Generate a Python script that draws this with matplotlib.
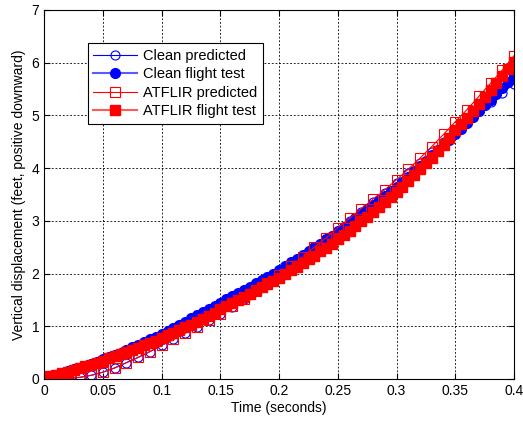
import numpy as np
import matplotlib
matplotlib.use("Agg")
import matplotlib.pyplot as plt

plt.rcParams['font.family'] = ['Liberation Sans', 'DejaVu Sans']

# Predicted series (every 0.01 s)
t_pred = [0.00, 0.01, 0.02, 0.03, 0.04, 0.05, 0.06, 0.07, 0.08, 0.09,
          0.10, 0.11, 0.12, 0.13, 0.14, 0.15, 0.16, 0.17, 0.18, 0.19,
          0.20, 0.21, 0.22, 0.23, 0.24, 0.25, 0.26, 0.27, 0.28, 0.29,
          0.30, 0.31, 0.32, 0.33, 0.34, 0.35, 0.36, 0.37, 0.38, 0.39, 0.40]
clean_pred = [0.00, 0.00, 0.01, 0.03, 0.07, 0.13, 0.21, 0.31, 0.41, 0.52,
              0.64, 0.75, 0.87, 0.99, 1.11, 1.23, 1.37, 1.51, 1.66, 1.81,
              1.96, 2.12, 2.29, 2.46, 2.63, 2.81, 2.99, 3.17, 3.35, 3.53,
              3.71, 3.90, 4.10, 4.30, 4.50, 4.72, 4.91, 5.08, 5.25, 5.42, 5.60]
atflir_pred = [0.00, 0.00, 0.01, 0.03, 0.07, 0.13, 0.21, 0.31, 0.41, 0.52,
               0.64, 0.75, 0.87, 0.99, 1.11, 1.24, 1.38, 1.52, 1.67, 1.82,
               1.98, 2.15, 2.32, 2.50, 2.68, 2.87, 3.05, 3.23, 3.41, 3.59,
               3.78, 3.98, 4.19, 4.41, 4.64, 4.88, 5.11, 5.36, 5.61, 5.86, 6.13]

# Flight test series (every 0.005 s)
t_flight = [0.000, 0.005, 0.010, 0.015, 0.020, 0.025, 0.030, 0.035, 0.040, 0.045,
            0.050, 0.055, 0.060, 0.065, 0.070, 0.075, 0.080, 0.085, 0.090, 0.095,
            0.100, 0.105, 0.110, 0.115, 0.120, 0.125, 0.130, 0.135, 0.140, 0.145,
            0.150, 0.155, 0.160, 0.165, 0.170, 0.175, 0.180, 0.185, 0.190, 0.195,
            0.200, 0.205, 0.210, 0.215, 0.220, 0.225, 0.230, 0.235, 0.240, 0.245,
            0.250, 0.255, 0.260, 0.265, 0.270, 0.275, 0.280, 0.285, 0.290, 0.295,
            0.300, 0.305, 0.310, 0.315, 0.320, 0.325, 0.330, 0.335, 0.340, 0.345,
            0.350, 0.355, 0.360, 0.365, 0.370, 0.375, 0.380, 0.385, 0.390, 0.395, 0.400]
clean_flight = [0.02, 0.05, 0.08, 0.11, 0.15, 0.18, 0.21, 0.25, 0.29, 0.33,
                0.37, 0.41, 0.46, 0.50, 0.55, 0.60, 0.65, 0.70, 0.75, 0.80,
                0.85, 0.91, 0.97, 1.03, 1.09, 1.15, 1.21, 1.27, 1.33, 1.39,
                1.45, 1.51, 1.57, 1.63, 1.69, 1.75, 1.82, 1.88, 1.94, 2.00,
                2.07, 2.14, 2.21, 2.28, 2.35, 2.42, 2.50, 2.57, 2.65, 2.72,
                2.80, 2.88, 2.96, 3.05, 3.13, 3.22, 3.30, 3.39, 3.47, 3.56,
                3.65, 3.74, 3.84, 3.94, 4.04, 4.14, 4.24, 4.34, 4.44, 4.54,
                4.65, 4.75, 4.86, 4.97, 5.08, 5.19, 5.30, 5.41, 5.52, 5.63, 5.74]
atflir_flight = [0.02, 0.05, 0.08, 0.11, 0.14, 0.17, 0.20, 0.24, 0.27, 0.31,
                 0.35, 0.39, 0.43, 0.47, 0.51, 0.55, 0.59, 0.64, 0.68, 0.73,
                 0.78, 0.83, 0.88, 0.93, 0.98, 1.03, 1.08, 1.14, 1.20, 1.26,
                 1.32, 1.38, 1.44, 1.50, 1.56, 1.62, 1.68, 1.74, 1.80, 1.86,
                 1.92, 1.99, 2.06, 2.13, 2.20, 2.27, 2.34, 2.42, 2.49, 2.57,
                 2.65, 2.73, 2.81, 2.90, 2.99, 3.08, 3.17, 3.26, 3.35, 3.45,
                 3.55, 3.65, 3.76, 3.87, 3.98, 4.09, 4.20, 4.32, 4.44, 4.58,
                 4.72, 4.84, 4.96, 5.09, 5.22, 5.35, 5.48, 5.61, 5.74, 5.88, 6.02]

x_ticks = [0, 0.05, 0.1, 0.15, 0.2, 0.25, 0.3, 0.35, 0.4]
x_tick_labels = ['0', '0.05', '0.1', '0.15', '0.2', '0.25', '0.3', '0.35', '0.4']
y_ticks = [0, 1, 2, 3, 4, 5, 6, 7]

fig = plt.figure(figsize=(5.23, 4.21), dpi=100)
ax = fig.add_axes([0.0847, 0.0998, 0.8981, 0.8765])

ax.plot(t_pred, clean_pred, color='blue', lw=0.8, marker='o', ms=6.5,
        mfc='none', mec='blue', mew=0.8, label='Clean predicted')
ax.plot(t_flight, clean_flight, color='#5a5aff', lw=1.5, marker='o', ms=7,
        mfc='blue', mec='blue', label='Clean flight test')
ax.plot(t_pred, atflir_pred, color='red', lw=0.8, marker='s', ms=7,
        mfc='none', mec='red', mew=0.8, label='ATFLIR predicted')
ax.plot(t_flight, atflir_flight, color='#ff5a5a', lw=1.5, marker='s', ms=7,
        mfc='red', mec='red', label='ATFLIR flight test')

ax.set_xlim(0, 0.4)
ax.set_ylim(0, 7)
ax.set_xticks(x_ticks)
ax.set_xticklabels(x_tick_labels)
ax.set_yticks(y_ticks)
ax.tick_params(direction='in', top=True, right=True, labelsize=10, length=4, width=0.8)
ax.grid(True, color='black', linestyle=(0, (2.2, 2.2)), linewidth=0.6)
for s in ax.spines.values():
    s.set_linewidth(0.8)
ax.set_xlabel('Time (seconds)', fontsize=10, labelpad=2)
ax.set_ylabel('Vertical displacement (feet, positive downward)', fontsize=10, labelpad=4)

leg = ax.legend(loc='upper left', bbox_to_anchor=(0.092, 0.91), borderaxespad=0,
                fontsize=10.5, frameon=True, fancybox=False, handlelength=3.0,
                labelspacing=0.3, borderpad=0.4, handletextpad=0.4)
leg.get_frame().set_edgecolor('black')
leg.get_frame().set_linewidth(0.8)
leg.get_frame().set_alpha(1)

fig.savefig('out.png', dpi=100, facecolor='white')
